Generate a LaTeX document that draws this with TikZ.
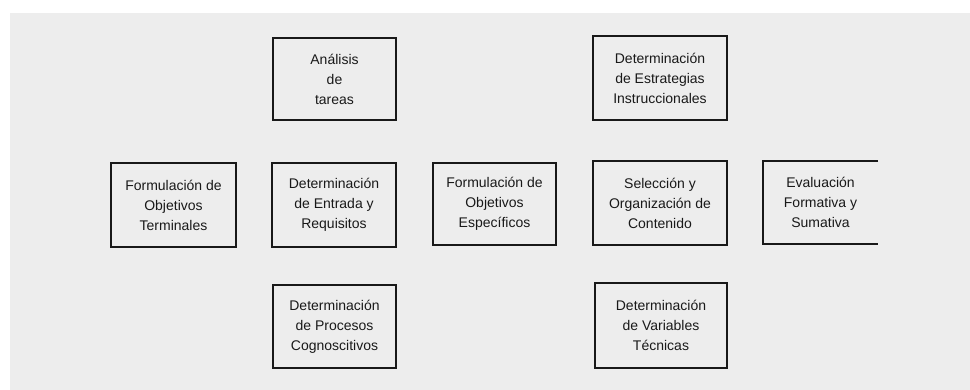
\documentclass[tikz,border=0pt]{standalone}
\usepackage{fontspec}
\setmainfont{Liberation Sans}
\begin{document}
\begin{tikzpicture}[x=1pt,y=-1pt,
  card/.style={draw=black!90, line width=1.4pt, fill=none, align=center, inner sep=0pt,
     font=\fontsize{14}{20}\selectfont, text=black!90, anchor=center},
  opencard/.style={card, draw=none, outer sep=0pt}]
\useasboundingbox (0,0) rectangle (970,390);
\fill[white] (0,0) rectangle (970,390);
\fill[black!7] (10,13) rectangle (970,390);
\node[card, minimum width=123pt, minimum height=82pt] (ana) at (334.5,79) {Análisis\\de\\tareas};
\node[card, minimum width=134pt, minimum height=84pt] (est) at (660,78) {Determinación\\de Estrategias\\Instruccionales};
\node[card, minimum width=125pt, minimum height=84pt] (ter) at (173.5,205) {Formulación de\\Objetivos\\Terminales};
\node[card, minimum width=124pt, minimum height=84pt] (ent) at (334,205) {Determinación\\de Entrada y\\Requisitos};
\node[card, minimum width=123pt, minimum height=82pt] (esp) at (494.5,204) {Formulación de\\Objetivos\\Específicos};
\node[card, minimum width=134pt, minimum height=84pt] (sel) at (660,203) {Selección y\\Organización de\\Contenido};
\node[opencard, minimum width=115pt, minimum height=83pt] (eva) at (820.5,202.5) {Evaluación\\Formativa y\\Sumativa};
\draw[draw=black!90, line width=1.6pt] (eva.north east) -- (eva.north west) -- (eva.south west) -- (eva.south east);
\node[card, minimum width=123pt, minimum height=83pt] (pro) at (334.5,326.5) {Determinación\\de Procesos\\Cognoscitivos};
\node[card, minimum width=132pt, minimum height=85pt] (var) at (661,325.5) {Determinación\\de Variables\\Técnicas};
\end{tikzpicture}
\end{document}
